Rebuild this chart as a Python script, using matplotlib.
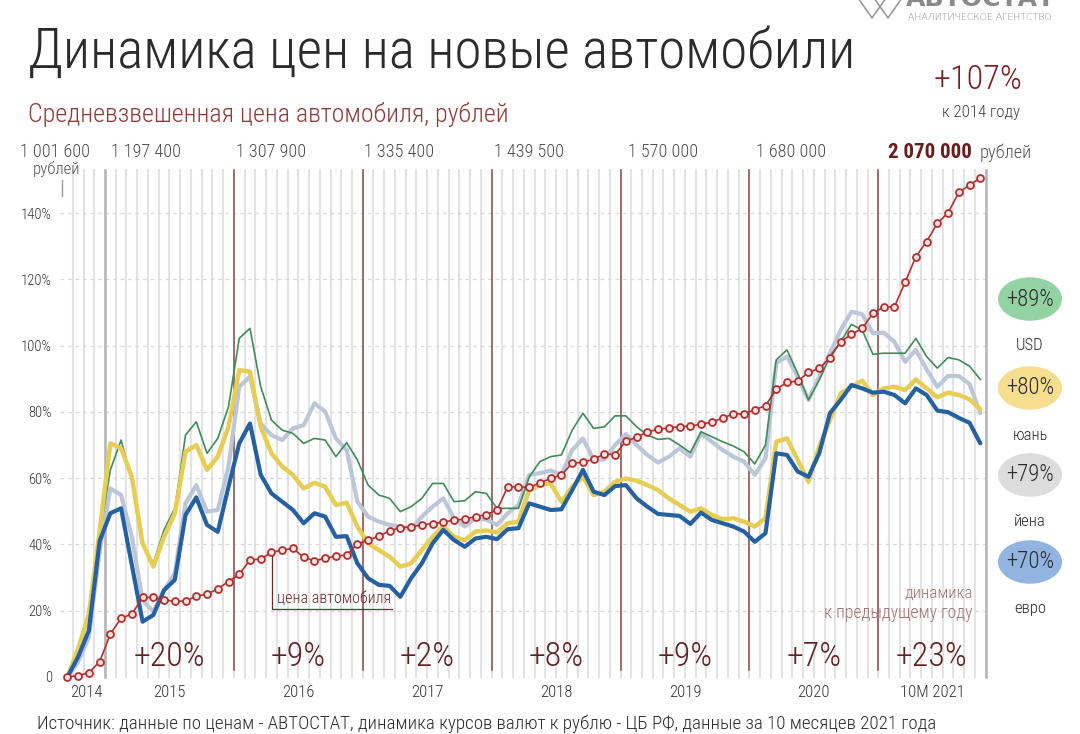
import numpy as np
import matplotlib
matplotlib.use("Agg")
import matplotlib.pyplot as plt
from matplotlib import font_manager as fm
from matplotlib.lines import Line2D
from matplotlib.patches import Circle

# ---------------- data (Sep 2014 ... Oct 2021, monthly, % vs Sep 2014) ----------------
price = [0, 0.4, 1.3, 4.6, 13.0, 17.7, 19.0, 24.0, 24.0, 23.2, 22.9, 22.9, 24.4, 25.0, 26.6, 28.8,
         31.0, 35.3, 35.6, 37.6, 38.3, 38.8, 36.1, 35.1, 35.8, 36.5, 36.8, 40.1, 41.3, 42.5, 44.1,
         45.1, 45.3, 45.9, 46.3, 46.7, 47.4, 47.6, 48.4, 49.0, 50.4, 57.4, 57.4, 57.2, 58.6, 59.9,
         61.0, 64.5, 64.8, 65.7, 67.3, 67.1, 71.2, 72.3, 74.0, 74.7, 75.2, 75.5, 75.7, 76.3, 76.9,
         78.1, 79.4, 79.4, 80.6, 81.9, 86.8, 88.9, 89.3, 91.9, 93.1, 96.3, 101.2, 103.4, 105.2,
         109.7, 111.7, 111.7, 119.1, 126.8, 131.4, 136.9, 140.1, 146.2, 148.5, 150.5]
usd = [0, 7.5, 18, 43, 62.5, 71.5, 59.4, 39.8, 34.3, 44.4, 50.9, 73.0, 77.0, 67.5, 72.0, 81.6,
       102.2, 105.2, 87.6, 77.5, 74.5, 73.5, 70.5, 72.0, 71.5, 66.5, 70.7, 65.5, 57.9, 54.9, 53.9,
       49.9, 51.4, 53.9, 58.4, 58.4, 52.9, 53.2, 55.9, 55.4, 50.9, 50.9, 50.9, 60.4, 65.0, 66.5,
       67.0, 74.5, 79.6, 75.0, 75.5, 78.8, 78.8, 75.5, 73.0, 71.7, 72.0, 70.0, 67.7, 74.0, 72.5,
       71.0, 69.7, 68.0, 64.3, 70.0, 95.7, 98.7, 91.6, 83.6, 89.6, 96.7, 101.2, 106.4, 104.7,
       97.4, 97.7, 97.7, 97.7, 102.2, 96.7, 93.2, 96.4, 95.7, 93.8, 89.8]
yuan = [0, 8.5, 19, 44, 70.5, 69.0, 60.4, 40.3, 33.3, 42.3, 49.4, 68.0, 70.0, 62.5, 66.5, 75.5,
        92.6, 92.1, 75.5, 67.5, 63.5, 61.0, 56.9, 58.6, 57.4, 51.9, 52.6, 45.4, 40.3, 38.3, 36.3,
        33.3, 34.3, 38.3, 42.3, 45.4, 42.3, 41.3, 43.9, 44.2, 43.6, 46.4, 46.9, 56.4, 57.9, 58.4,
        52.9, 57.4, 60.4, 54.9, 55.9, 58.9, 59.9, 59.2, 57.9, 56.4, 53.9, 51.9, 49.9, 50.9, 48.9,
        47.6, 47.9, 46.9, 45.4, 47.9, 71.0, 72.0, 65.5, 58.9, 69.5, 77.5, 85.6, 87.6, 89.4,
        85.1, 87.1, 87.6, 86.6, 89.8, 87.1, 84.4, 85.8, 85.1, 83.8, 80.8]
yen = [0, 4.5, 12, 38, 56.9, 54.9, 42.3, 23.2, 19.7, 26.2, 31.3, 52.4, 57.9, 49.9, 50.4, 63.5,
       87.6, 90.6, 76.5, 73.0, 71.5, 75.0, 76.0, 82.6, 80.1, 72.0, 68.5, 52.9, 48.4, 46.9, 45.9,
       45.4, 44.4, 48.4, 51.4, 53.9, 47.9, 45.4, 47.9, 47.5, 45.9, 49.4, 51.9, 61.0, 61.5, 62.3,
       61.0, 68.5, 72.0, 65.5, 65.7, 70.0, 73.3, 70.0, 67.0, 64.7, 66.5, 69.0, 66.5, 73.5, 71.0,
       68.5, 66.5, 65.0, 61.0, 66.0, 94.7, 96.7, 90.6, 83.6, 90.6, 97.7, 104.7, 110.2, 109.5,
       103.7, 103.9, 101.2, 95.1, 98.7, 92.8, 87.6, 90.8, 90.8, 88.4, 79.6]
euro = [0, 6.1, 14, 41, 49.4, 50.9, 33.8, 16.7, 18.7, 26.2, 29.3, 48.9, 54.2, 45.9, 43.8, 57.4,
        70.5, 76.5, 61.0, 55.4, 52.9, 50.4, 46.4, 49.4, 48.4, 42.3, 42.5, 34.3, 29.8, 27.8, 27.5,
        24.2, 29.8, 34.3, 40.3, 44.4, 41.3, 39.3, 41.8, 42.3, 41.6, 44.6, 44.9, 52.4, 51.4, 50.4,
        50.6, 56.4, 62.5, 55.9, 54.9, 57.6, 57.9, 53.9, 51.4, 49.2, 48.9, 48.6, 46.2, 49.6, 47.4,
        46.4, 45.4, 43.9, 40.8, 43.4, 67.5, 67.0, 62.0, 60.4, 67.5, 79.6, 83.6, 88.1, 87.1,
        85.8, 86.1, 85.1, 82.6, 87.1, 85.1, 80.4, 79.9, 78.2, 76.7, 70.5]

year_labels = ['2014', '2015', '2016', '2017', '2018', '2019', '2020', '10M 2021']
year_change = ['+20%', '+9%', '+2%', '+8%', '+9%', '+7%', '+23%']
avg_prices = ['1 001 600', '1 197 400', '1 307 900', '1 335 400', '1 439 500',
              '1 570 000', '1 680 000', '2 070 000']
currency_names = ['USD', 'юань', 'йена', 'евро']
currency_growth = ['+89%', '+80%', '+79%', '+70%']
ytick_vals = [0, 20, 40, 60, 80, 100, 120, 140]
ytick_labels = ['0', '20%', '40%', '60%', '80%', '100%', '120%', '140%']

# ---------------- fonts ----------------
names = {f.name for f in fm.fontManager.ttflist}
FONT = dict(family='Roboto', weight='light')
if 'Roboto Condensed' in names:
    FONT = dict(family='Roboto Condensed', weight='light')
elif 'Liberation Sans Narrow' in names:
    FONT = dict(family='Liberation Sans Narrow')

W, H = 1080, 734
fig = plt.figure(figsize=(W / 100, H / 100), dpi=100)
fig.patch.set_facecolor('white')

def fx(x):
    return x / W

def fy(y):
    return 1 - y / H

def ptext(x, y, s, ha='left', va='center', color='#333333', size=12, **kw):
    props = dict(FONT)
    props.update(kw)
    return fig.text(fx(x), fy(y), s, ha=ha, va=va, color=color, fontsize=size, **props)

renderer = fig.canvas.get_renderer()

def fit(t, width):
    w = t.get_window_extent(renderer=renderer).width
    t.set_fontsize(t.get_fontsize() * width / w)

# ---------------- axes ----------------
PX0, PXM = 67.4, 10.74      # pixel x of month 0, pixels per month
PY0, PYS = 677.0, 3.314     # pixel y of 0 %, pixels per %
L, R, T, B = 57, 992, 160, 680
ax = fig.add_axes([fx(L), fy(B), (R - L) / W, (B - T) / H])
ax.set_xlim((L - PX0) / PXM, (R - PX0) / PXM)
ax.set_ylim(-(B - PY0) / PYS, (PY0 - T) / PYS)
for s in ax.spines.values():
    s.set_visible(False)

n = len(price)
x = np.arange(n)
top_pct = (PY0 - 170) / PYS

# monthly grid
for m in np.arange(0.5, n, 1.0):
    ax.plot([m, m], [0, top_pct], color='#e3e3e3', lw=1.5, zorder=0)
# horizontal dashed grid
for v in ytick_vals[1:]:
    ax.plot([(60 - PX0) / PXM, n - 0.5], [v, v], color='#d9d9d9', lw=0.9,
            ls=(0, (3, 3)), zorder=0.5)
# year boundaries
bounds = [3.5 + 12 * k for k in range(7)] + [n - 0.5]
for k, b in enumerate(bounds):
    if k == 0 or k == len(bounds) - 1:
        ax.plot([b, b], [0, top_pct], color='#b5b5b5', lw=1.8, zorder=1)
    else:
        ax.plot([b, b], [2.1, top_pct], color='#8c4b4b', lw=1.1, zorder=1)

ax.plot(x, yen, color='#bcc6d9', lw=3.0, zorder=3, solid_capstyle='round')
ax.plot(x, usd, color='#3f8c58', lw=1.2, zorder=4)
ax.plot(x, yuan, color='#e8cd55', lw=3.2, zorder=5, solid_capstyle='round')
ax.plot(x, euro, color='#2561a0', lw=3.0, zorder=6, solid_capstyle='round')
ax.plot(x, price, color='#b3302e', lw=1.2, marker='o', ms=5.0, mfc='#f8e2e2',
        mec='#b3302e', mew=1.3, zorder=7, clip_on=False)

# ticks
ax.set_yticks(ytick_vals, labels=ytick_labels)
year_pos = [1.8] + [(bounds[k] + bounds[k + 1]) / 2 for k in range(len(bounds) - 1)]
ax.set_xticks(year_pos, labels=year_labels)
ax.tick_params(length=0, colors='#333333')
ax.tick_params(axis='y', pad=3.6)
ax.tick_params(axis='x', pad=3.4)
for lab in ax.get_yticklabels():
    lab.set_fontproperties(fm.FontProperties(size=10.5, **FONT))
    lab.set_color('#333333')
for lab in ax.get_xticklabels():
    lab.set_fontproperties(fm.FontProperties(size=12, **FONT))
    lab.set_color('#333333')

# yearly change labels
for k, s in enumerate(year_change):
    xm = (bounds[k] + bounds[k + 1]) / 2
    ax.text(xm, 6.1, s, ha='center', va='center', color='#5e2222', fontsize=24.5, **FONT)

# price label with leader line
ax.plot([(272 - PX0) / PXM, (272 - PX0) / PXM, (392 - PX0) / PXM],
        [(PY0 - 556) / PYS, (PY0 - 609) / PYS, (PY0 - 609) / PYS],
        color='#6b2a2a', lw=0.9, zorder=8)
t = ptext(277, 598, 'цена автомобиля', color='#6b2a2a', size=13)
fit(t, 113)

t = ptext(973, 593, 'динамика', ha='right', color='#a07272', size=12)
fit(t, 68)
t = ptext(973, 613, 'к предыдущему году', ha='right', color='#a07272', size=12)
fit(t, 148)

# ---------------- header texts ----------------
t = ptext(28, 68, 'Динамика цен на новые автомобили', va='baseline', color='#2b2b2b', size=40)
fit(t, 827)
t = ptext(28, 122, 'Средневзвешенная цена автомобиля, рублей', va='baseline', color='#8e3b3b', size=20)
fit(t, 480)

price_cx = [55, 146, 271, 399, 529, 663, 791, 930]
ref = ptext(0, -50, avg_prices[0], ha='center', size=16)
fit(ref, 70)
fs_price = ref.get_fontsize()
ref.remove()
for cx, s in zip(price_cx[:-1], avg_prices[:-1]):
    ptext(cx, 152, s, ha='center', color='#4a4a4a', size=fs_price)
t = ptext(price_cx[-1], 152, avg_prices[-1], ha='center', color='#6d1a1a', size=fs_price, weight='bold')
fit(t, 84)
t = ptext(1006, 153, 'рублей', ha='center', color='#555555', size=12)
fit(t, 52)
t = ptext(57, 169, 'рублей', ha='center', color='#555555', size=10)
fit(t, 48)
fig.add_artist(Line2D([fx(62), fx(62)], [fy(180), fy(196)], color='#999999', lw=1))

t = ptext(978, 80, '+107%', ha='center', color='#7a1f1f', size=28)
fit(t, 89)
t = ptext(981, 113, 'к 2014 году', ha='center', color='#444444', size=11)
fit(t, 78)

# logo
t = ptext(980, 11, 'АВТОСТАТ', ha='center', va='bottom', color='#8a8a8a', size=16,
          weight='bold', family='DejaVu Sans')
fit(t, 150)
t = ptext(980, 17, 'АНАЛИТИЧЕСКОЕ АГЕНТСТВО', ha='center', color='#8a8a8a', size=5,
          family='DejaVu Sans')
fit(t, 146)
for dx in (0, 16):
    fig.add_artist(Line2D([fx(858 + dx), fx(872 + dx), fx(886 + dx)],
                          [fy(-2), fy(18), fy(-2)], color='#9a9a9a', lw=1.2))

# currency circles
circ_colors = ['#92d2a3', '#f7de8e', '#dcdcdc', '#92b4e0']
circ_cy = [299, 388, 475, 562]
for col, cy, g, nm in zip(circ_colors, circ_cy, currency_growth, currency_names):
    fig.add_artist(Circle((fx(1030), fy(cy)), 32 / W, transform=fig.transFigure,
                          facecolor=col, edgecolor='none'))
    t = ptext(1030, cy, g, ha='center', color='#2b2b2b', size=15)
    fit(t, 48)
    ptext(1030, cy + 47, nm, ha='center', color='#2b2b2b', size=12)

# source
t = ptext(37, 724, 'Источник: данные по ценам - АВТОСТАТ, динамика курсов валют к рублю - ЦБ РФ, '
          'данные за 10 месяцев 2021 года', color='#2b2b2b', size=18)
fit(t, 899)

fig.savefig('out.png', dpi=100)
